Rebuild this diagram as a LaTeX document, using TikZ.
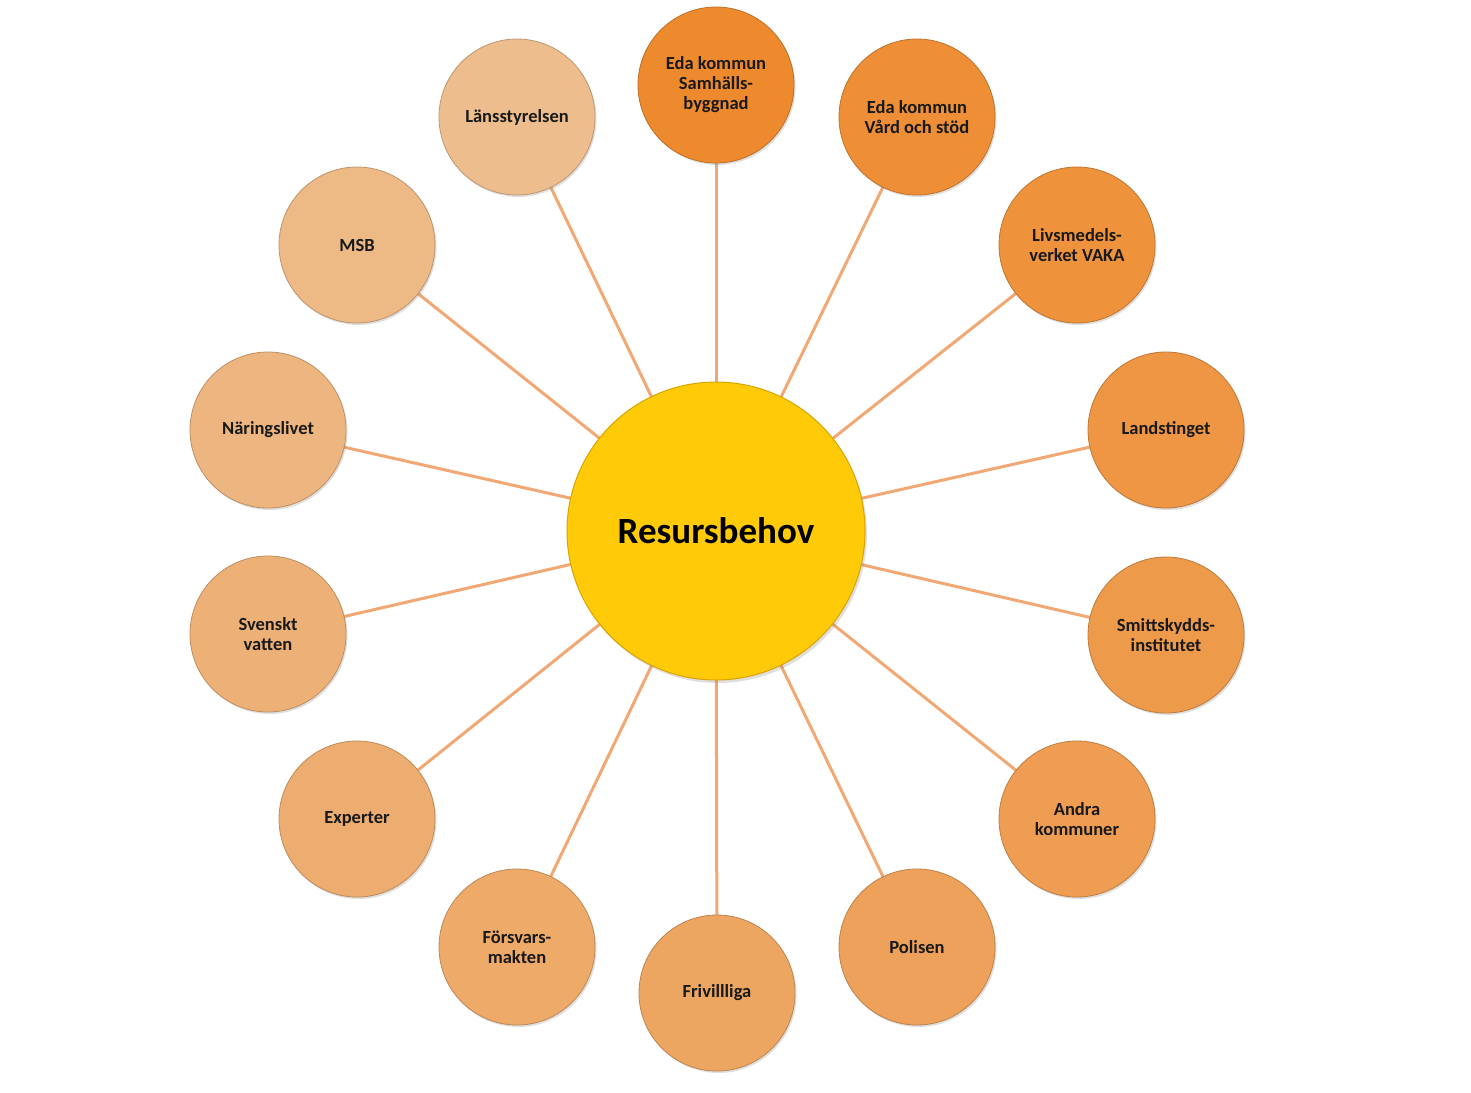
\documentclass[tikz,border=0pt]{standalone}
\usepackage{fontspec}
\setmainfont{Carlito}
\usetikzlibrary{backgrounds,shadows}
\definecolor{odark}{HTML}{EE8A2E}
\definecolor{olight}{HTML}{EDBD8D}
\definecolor{linec}{HTML}{F2A874}
\definecolor{cyell}{HTML}{FFCA08}
\definecolor{cyellb}{HTML}{D9A400}
\tikzset{
  outer/.style={circle, minimum size=156pt, inner sep=0pt, align=center,
    font=\bfseries\fontsize{18.5}{20}\selectfont, text=black!90,
    draw=#1!80!black, line width=0.8pt, fill=#1,
    drop shadow={shadow xshift=1.5pt, shadow yshift=-2pt, opacity=0.25}},
  centre/.style={circle, minimum size=298pt, inner sep=0pt, fill=cyell,
    draw=cyellb, line width=1pt, font=\bfseries\fontsize{37}{42}\selectfont,
    drop shadow={shadow xshift=2pt, shadow yshift=-3pt, opacity=0.25}},
  spoke/.style={draw=linec, line width=3pt}
}
\begin{document}
\begin{tikzpicture}[x=1pt,y=-1pt]
\useasboundingbox (0,0) rectangle (1471,1092);
\node[centre] (c) at (716,531) {Resursbehov};
\node[outer=olight!0!odark]  (n0)  at (716,85)   {Eda kommun\\Samhälls-\\byggnad};
\node[outer=olight!8!odark]  (n1)  at (917,117)  {Eda kommun\\Vård och stöd};
\node[outer=olight!15!odark] (n2)  at (1077,245) {Livsmedels-\\verket VAKA};
\node[outer=olight!23!odark] (n3)  at (1166,430) {Landstinget};
\node[outer=olight!31!odark] (n4)  at (1166,635) {Smittskydds-\\institutet};
\node[outer=olight!38!odark] (n5)  at (1077,819) {Andra\\kommuner};
\node[outer=olight!46!odark] (n6)  at (917,947)  {Polisen};
\node[outer=olight!54!odark] (n7)  at (717,993)  {Frivillliga};
\node[outer=olight!62!odark] (n8)  at (517,947)  {Försvars-\\makten};
\node[outer=olight!69!odark] (n9)  at (357,819)  {Experter};
\node[outer=olight!77!odark] (n10) at (268,634)  {Svenskt\\vatten};
\node[outer=olight!85!odark] (n11) at (268,430)  {Näringslivet};
\node[outer=olight!92!odark] (n12) at (357,245)  {MSB};
\node[outer=olight!100!odark] (n13) at (517,117) {Länsstyrelsen};
\begin{pgfonlayer}{background}
\fill[white] (0,0) rectangle (1471,1092);
\foreach \i in {0,...,13} {\draw[spoke] (c.center) -- (n\i.center);}
\end{pgfonlayer}
\end{tikzpicture}
\end{document}
